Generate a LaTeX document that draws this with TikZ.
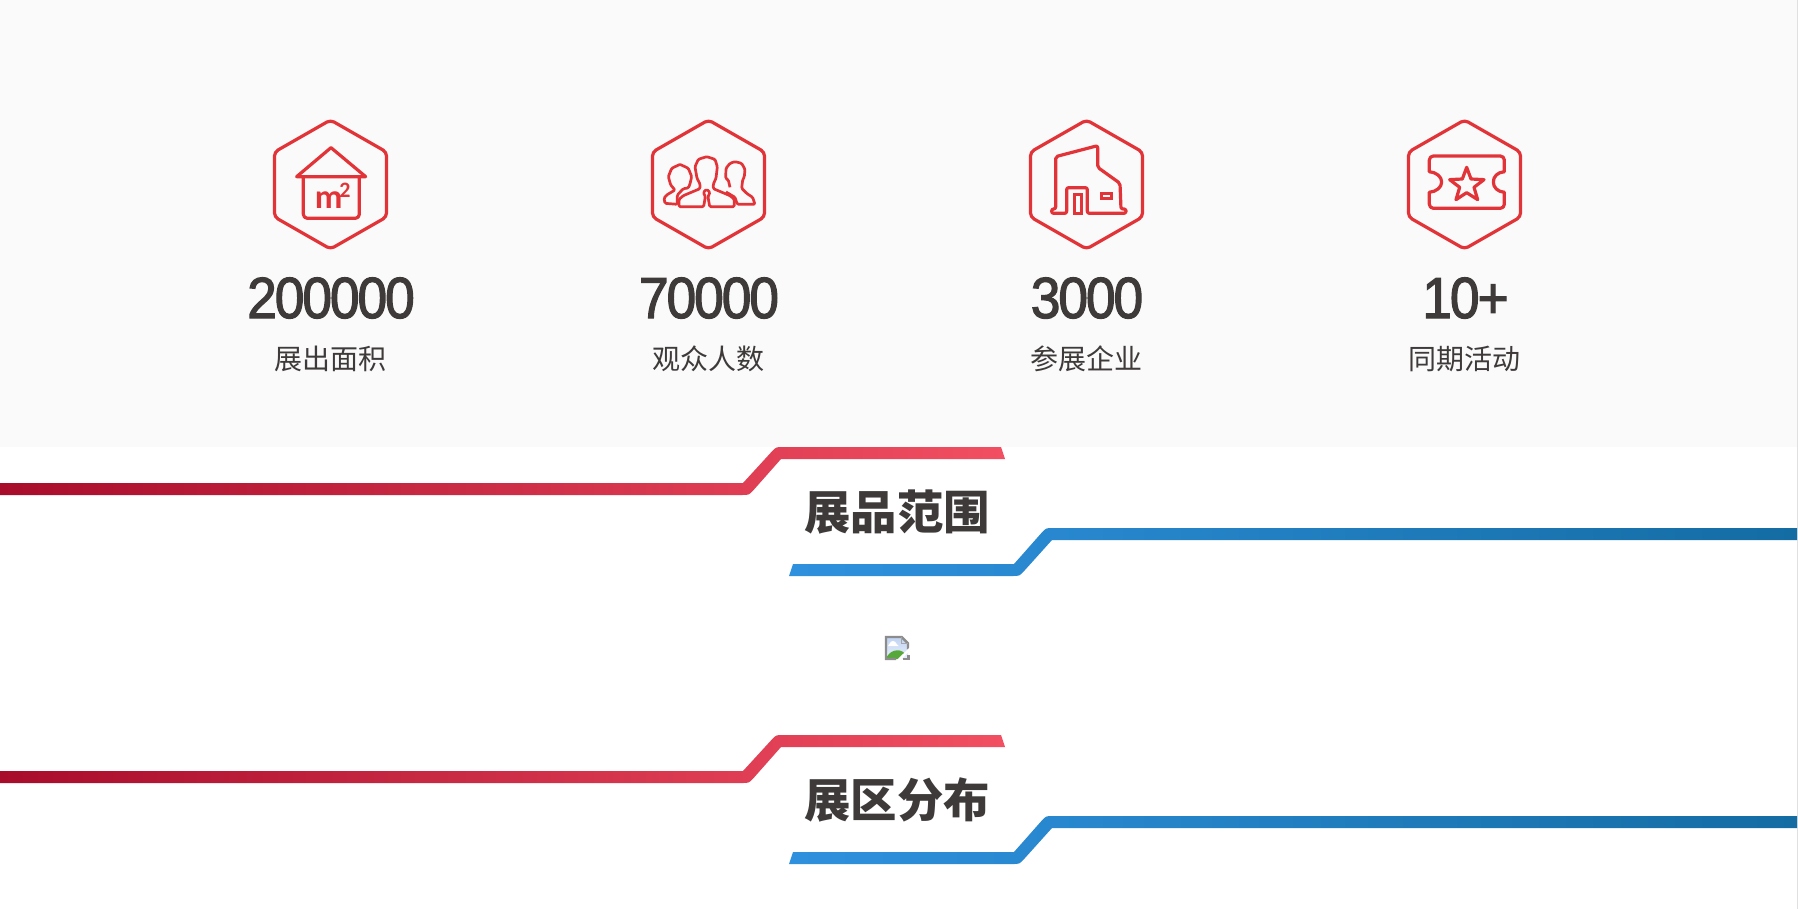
\documentclass[tikz,border=0pt]{standalone}
\usepackage{fontspec}
\setmainfont{Liberation Sans}
\newfontfamily\cjk{Noto Sans CJK SC}
\newfontfamily\numfont[FakeStretch=0.92,LetterSpace=-3.6,FakeBold=2]{Liberation Sans}
\newfontfamily\unitfont{Carlito}
\definecolor{ink}{HTML}{3E3A39}
\definecolor{iconred}{HTML}{E23438}
\definecolor{panel}{HTML}{FAFAFA}
\definecolor{redA}{HTML}{A80C2B}
\definecolor{redB}{HTML}{F24F62}
\definecolor{blueA}{HTML}{2F91DE}
\definecolor{blueB}{HTML}{146CA3}
\definecolor{skyA}{HTML}{BFD3F2}
\definecolor{skyB}{HTML}{EAF1FC}
\definecolor{hill}{HTML}{57A83A}
\tikzset{
  iconline/.style={draw=iconred,line width=3.2pt,line join=round,line cap=round},
  thinline/.style={draw=iconred,line width=2.7pt,line join=round,rounded corners=1.2pt},
  number/.style={anchor=base,text=ink,inner sep=0pt,font=\numfont\fontsize{58}{58}\selectfont},
  caption/.style={anchor=base,text=ink,inner sep=0pt,font=\cjk\fontsize{28}{28}\selectfont},
  heading/.style={anchor=base,text=ink,inner sep=0pt,font=\cjk\bfseries\fontsize{46.4}{46.4}\selectfont},
  hexa/.pic={\draw[iconline,rounded corners=4pt] (0,-64.5) -- (56,-32.5) -- (56,32.5) -- (0,64.5) -- (-56,32.5) -- (-56,-32.5) -- cycle;},
  ribbons/.pic={
    \shade[left color=redA,right color=redB]
      (0,495) -- (742,495) .. controls (749,495) and (749,495) .. (753.6,490) -- (781,459) -- (1005,459) -- (1001,447)
      -- (783,447) .. controls (776,447) and (776,447) .. (771.4,452) -- (743,483) -- (0,483) -- cycle;
    \shade[left color=blueA,right color=blueB]
      (793,564) -- (1014,564) -- (1041.4,533) .. controls (1046,528) and (1046,528) .. (1053,528) -- (1797,528) -- (1797,540)
      -- (1052,540) -- (1024.1,571) .. controls (1019.5,576) and (1019.5,576) .. (1012.5,576) -- (789,576) -- cycle;
  }
}
\begin{document}
\begin{tikzpicture}[x=1pt,y=-1pt]
\useasboundingbox (0,0) rectangle (1798,909);
\fill[white] (0,0) rectangle (1798,909);
\fill[panel] (0,0) rectangle (1798,447);
\fill[black!12] (1797,0) rectangle (1798,909);

% hexagons
\pic at (330.5,184.5) {hexa};
\pic at (708.5,184.5) {hexa};
\pic at (1086.5,184.5) {hexa};
\pic at (1464.5,184.5) {hexa};

% icon 1: house with m2
\begin{scope}[shift={(260,110)},x=0.3333pt,y=-0.3333pt]
  \draw[iconline] (110,200) -- (213,113) -- (317,200) -- cycle;
  \draw[iconline,rounded corners=4pt] (130,200) -- (130,325) -- (298,325) -- (298,200);
  \node[anchor=base,inner sep=0pt,text=iconred,font=\unitfont\bfseries\fontsize{34}{34}\selectfont] (unitm) at (206,296) {m};
  \node[anchor=base,inner sep=0pt,text=iconred,font=\unitfont\bfseries\fontsize{22}{22}\selectfont] (unittwo) at (255,262) {2};
\end{scope}

% icon 2: people
\begin{scope}[shift={(640,110)},x=0.3333pt,y=-0.3333pt]
  \draw[thinline] (117,290) -- (117,268) -- (130,257) -- (180,236) -- (180,222) -- (171,205) -- (165,170) -- (175,148) -- (200,140) -- (225,148) -- (232,170) -- (228,205) -- (220,222) -- (220,236) -- (270,257) -- (283,268) -- (283,290) -- (209,290) -- (204,260) -- (210,247) -- (200,238) -- (190,247) -- (196,260) -- (191,290) -- cycle;
  \draw[thinline] (112,283) -- (75,280) -- (72,265) -- (80,255) -- (105,240) -- (92,225) -- (85,200) -- (95,175) -- (120,163) -- (145,175) -- (155,200) -- (150,222) -- (145,234) -- (130,236) -- (112,255) -- cycle;
  \draw[thinline] (270,232) -- (265,210) -- (257,205) -- (258,175) -- (270,160) -- (285,155) -- (305,160) -- (315,178) -- (313,200) -- (308,210) -- (305,235) -- (320,250) -- (338,262) -- (345,283) -- (292,283) -- (285,262) -- (258,246);
\end{scope}

% icon 3: building
\begin{scope}[shift={(1010,110)},x=0.3333pt,y=-0.3333pt]
  \draw[iconline,rounded corners=2pt] (170,310) -- (125,310) -- (125,297) -- (137,297) -- (137,140) -- (263,107) -- (263,172) -- (330,220) -- (333,297) -- (348,297) -- (348,310) -- (232,310) -- (232,233) -- (170,233) -- cycle;
  \draw[draw=iconred,line width=3pt] (192,253) rectangle (213,310);
  \draw[draw=iconred,line width=3pt] (275,251) rectangle (305,267);
\end{scope}

% icon 4: ticket
\begin{scope}[shift={(1390,110)},x=0.3333pt,y=-0.3333pt]
  \draw[iconline,rounded corners=4pt] (118,185) -- (118,138) -- (343,138) -- (343,185);
  \draw[iconline] (343,185) .. controls (322,187) and (310,200) .. (310,216) .. controls (310,232) and (322,245) .. (343,247);
  \draw[iconline,rounded corners=4pt] (343,247) -- (343,295) -- (118,295) -- (118,247);
  \draw[iconline] (118,247) .. controls (139,245) and (155,232) .. (155,216) .. controls (155,200) and (139,187) .. (118,185);
  \draw[iconline] (230,172) -- (243,207) -- (282,209) -- (252,232) -- (263,269) -- (230,248) -- (198,269) -- (209,232) -- (179,209) -- (217,207) -- cycle;
\end{scope}

% numbers and captions
\node[number] (n1) at (331,318) {200000};
\node[caption] (c1) at (330,369) {展出面积};
\node[number] (n2) at (709,318) {70000};
\node[caption] (c2) at (708,369) {观众人数};
\node[number] (n3) at (1087,318) {3000};
\node[caption] (c3) at (1086,369) {参展企业};
\node[number] (n4) at (1465.5,318) {10+};
\node[caption] (c4) at (1464,369) {同期活动};

% ribbons + headings
\pic at (0,0) {ribbons};
\pic at (0,288) {ribbons};
\node[heading] (h1) at (897,529.5) {展品范围};
\node[heading] (h2) at (897,817.5) {展区分布};

% broken image placeholder
\begin{scope}[shift={(860,620)},x=0.3333pt,y=-0.3333pt]
  \shade[top color=skyA,bottom color=skyB] (78,51) -- (125,51) -- (144,70) -- (144,117) -- (78,117) -- cycle;
  \fill[white] (88,72) .. controls (92,60) and (106,60) .. (110,72) -- (116,78) -- (84,78) -- cycle;
  \fill[hill] (78,117) .. controls (85,92) and (118,82) .. (134,100) -- (118,117) -- cycle;
  \draw[black!45,line width=2.4pt] (144,88) -- (144,70) -- (125,51) -- (78,51) -- (78,117) -- (108,117);
  \draw[black!35,line width=1.6pt] (125,51) -- (125,70) -- (144,70);
  \draw[black!45,line width=2.4pt] (130,117) -- (146,117) -- (146,104);
  \draw[white,line width=2.6pt] (152,85) -- (112,124);
\end{scope}
\end{tikzpicture}
\end{document}
